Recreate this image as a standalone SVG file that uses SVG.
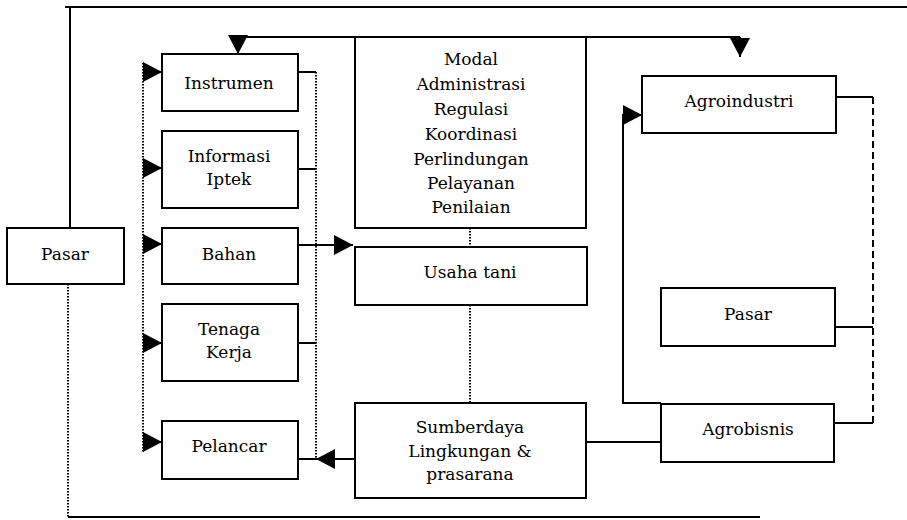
<svg xmlns="http://www.w3.org/2000/svg" width="907" height="520" viewBox="0 0 907 520">
<style>
.box{fill:#fff;stroke:#000;stroke-width:2}
.t{font-family:"DejaVu Serif","Liberation Serif",serif;font-size:17px;fill:#000;text-anchor:middle}
.s{fill:none;stroke:#000;stroke-width:2}
.d{fill:none;stroke:#000;stroke-width:2;stroke-dasharray:1.5 1.5}
.ds{fill:none;stroke:#000;stroke-width:2;stroke-dasharray:7 4}
</style>
<defs>
<marker id="ah" markerUnits="userSpaceOnUse" markerWidth="20" markerHeight="20" viewBox="0 0 19 20" refX="19" refY="10" orient="auto">
<path d="M0,0 L19,10 L0,20 z" fill="#000"/>
</marker>
</defs>
<rect width="907" height="520" fill="#fff"/>
<g id="connectors">
<path class="s" d="M65,7 L907,7"/>
<path class="s" d="M70,7 L70,228"/>
<path class="d" d="M68,284 L68,517"/>
<path class="s" d="M68,517 L760,517"/>
<path class="s" d="M238,37 L740,37"/>
<path class="s" d="M238,37 L238,54" marker-end="url(#ah)"/>
<path class="s" d="M740,37 L740,57" marker-end="url(#ah)"/>
<path class="d" d="M143,63 L143,452"/>
<path class="s" d="M143,72 L162,72" marker-end="url(#ah)"/>
<path class="s" d="M143,168 L162,168" marker-end="url(#ah)"/>
<path class="s" d="M143,244 L162,244" marker-end="url(#ah)"/>
<path class="s" d="M143,343 L162,343" marker-end="url(#ah)"/>
<path class="s" d="M143,442 L162,442" marker-end="url(#ah)"/>
<path class="d" d="M316,72 L316,459"/>
<path class="s" d="M298,72 L316,72"/>
<path class="s" d="M298,169 L316,169"/>
<path class="s" d="M298,343 L316,343"/>
<path class="s" d="M298,459 L316,459"/>
<path class="s" d="M298,245 L353,245" marker-end="url(#ah)"/>
<path class="s" d="M355,459 L316,459" marker-end="url(#ah)"/>
<path class="d" d="M470,228 L470,247"/>
<path class="d" d="M470,305 L470,403"/>
<path class="s" d="M586,442 L661,442"/>
<path class="s" d="M661,403 L623,403 L623,115 L642,115" marker-end="url(#ah)"/>
<path class="s" d="M836,97 L873,97"/>
<path class="s" d="M835,327 L873,327"/>
<path class="s" d="M834,423 L873,423"/>
<path class="ds" d="M873,97 L873,423"/>
</g>
<g id="pasar-left"><rect class="box" x="7" y="228" width="117" height="56"/><text class="t" x="65" y="260">Pasar</text></g>
<g id="instrumen"><rect class="box" x="162" y="54" width="136" height="57"/><text class="t" x="229" y="89">Instrumen</text></g>
<g id="informasi"><rect class="box" x="162" y="131" width="136" height="77"/><text class="t" x="229" y="162">Informasi</text><text class="t" x="229" y="185">Iptek</text></g>
<g id="bahan"><rect class="box" x="162" y="228" width="136" height="56"/><text class="t" x="229" y="260">Bahan</text></g>
<g id="tenaga"><rect class="box" x="162" y="304" width="136" height="77"/><text class="t" x="229" y="335">Tenaga</text><text class="t" x="229" y="358">Kerja</text></g>
<g id="pelancar"><rect class="box" x="162" y="421" width="136" height="58"/><text class="t" x="229" y="452">Pelancar</text></g>
<g id="modal"><rect class="box" x="355" y="37" width="231" height="191"/>
<text class="t" x="471" y="65">Modal</text>
<text class="t" x="471" y="90">Administrasi</text>
<text class="t" x="471" y="115">Regulasi</text>
<text class="t" x="471" y="140">Koordinasi</text>
<text class="t" x="471" y="165">Perlindungan</text>
<text class="t" x="471" y="189">Pelayanan</text>
<text class="t" x="471" y="213">Penilaian</text></g>
<g id="usaha-tani"><rect class="box" x="355" y="247" width="232" height="58"/><text class="t" x="470" y="278">Usaha tani</text></g>
<g id="sumberdaya"><rect class="box" x="355" y="403" width="231" height="95"/><text class="t" x="470" y="433">Sumberdaya</text><text class="t" x="470" y="457">Lingkungan &amp;</text><text class="t" x="470" y="480">prasarana</text></g>
<g id="agroindustri"><rect class="box" x="642" y="76" width="194" height="57"/><text class="t" x="739" y="107">Agroindustri</text></g>
<g id="pasar-right"><rect class="box" x="661" y="288" width="174" height="58"/><text class="t" x="748" y="320">Pasar</text></g>
<g id="agrobisnis"><rect class="box" x="661" y="404" width="173" height="58"/><text class="t" x="748" y="435">Agrobisnis</text></g>
</svg>
